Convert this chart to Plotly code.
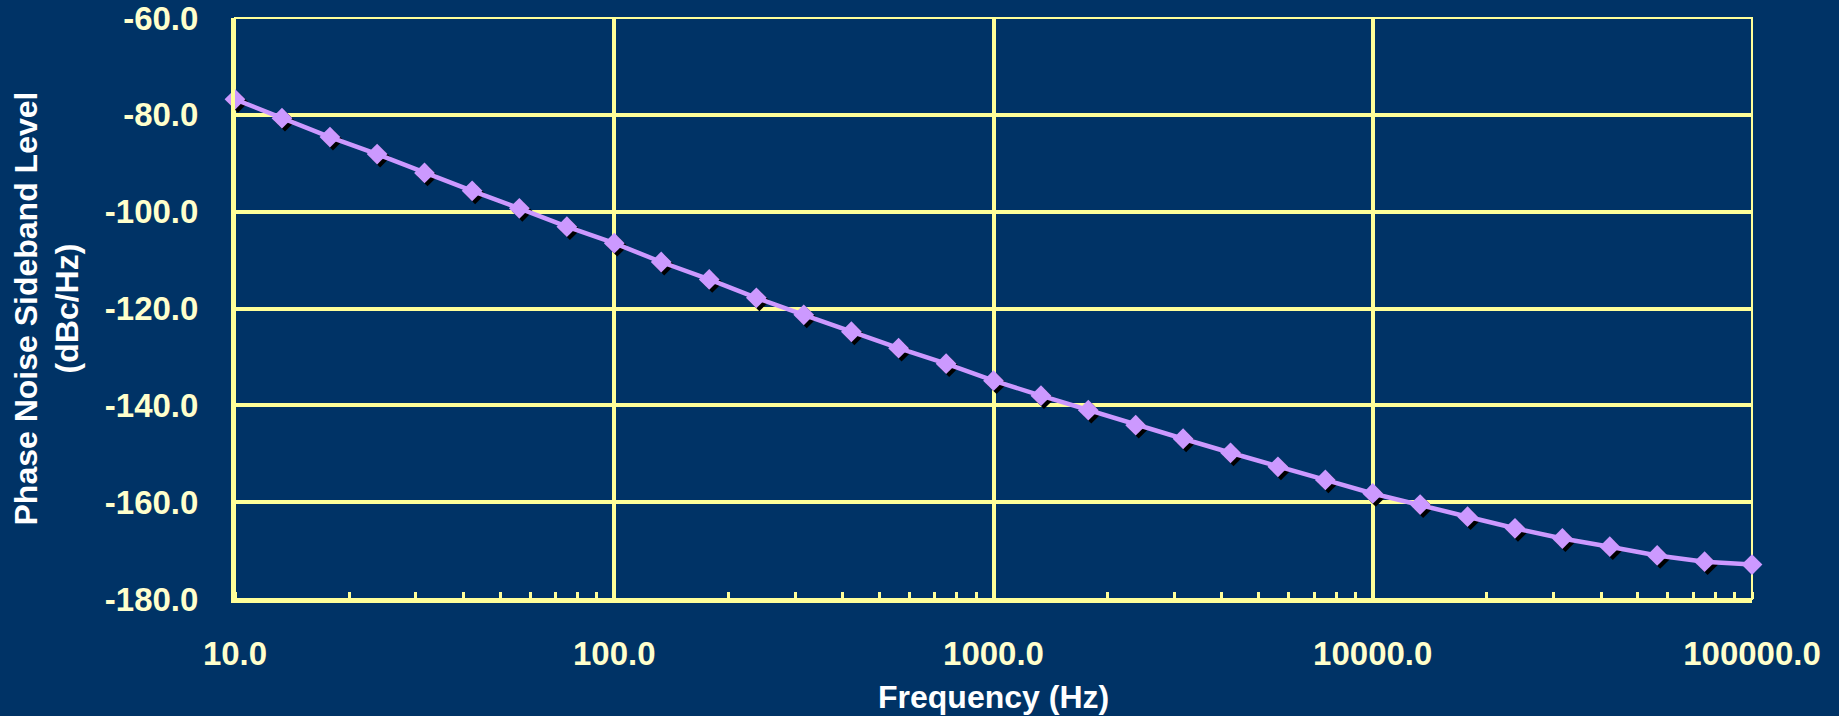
import plotly.graph_objects as go

# Offset frequency (Hz) and measured single-sideband phase noise (dBc/Hz)
freq_hz = [10.0, 13.3, 17.8, 23.7, 31.6, 42.2, 56.2, 75.0,
           100.0, 133.0, 178.0, 237.0, 316.0, 422.0, 562.0, 750.0,
           1000.0, 1334.0, 1778.0, 2371.0, 3162.0, 4217.0, 5623.0, 7499.0,
           10000.0, 13335.0, 17783.0, 23714.0, 31623.0, 42170.0, 56234.0, 74989.0,
           100000.0]
phase_noise = [-76.8, -80.7, -84.6, -88.1, -92.0, -95.7, -99.3, -103.1,
               -106.5, -110.4, -114.0, -117.8, -121.3, -124.8, -128.2, -131.4,
               -134.9, -138.0, -141.0, -144.1, -146.9, -149.8, -152.7, -155.4,
               -158.2, -160.5, -163.0, -165.4, -167.5, -169.2, -171.0, -172.3,
               -172.9]

x_tick_vals = [10, 100, 1000, 10000, 100000]
x_tick_text = ["10.0", "100.0", "1000.0", "10000.0", "100000.0"]
y_tick_vals = [-180, -160, -140, -120, -100, -80, -60]
y_tick_text = ["-180.0", "-160.0", "-140.0", "-120.0", "-100.0", "-80.0", "-60.0"]

BG = "#003366"
GRID = "#FFFF99"
TICK_TXT = "#FFFFCC"
LINE = "#CC99FF"

W, H = 1839, 716
ML, MR, MT, MB = 235, 87, 18, 117
plot_w = W - ML - MR
plot_h = H - MT - MB

x_range = [1, 5]          # log10 of 10 .. 100000
y_range = [-180, -60]

# drop-shadow offset for the markers, expressed in axis units
shadow_px = 3
dx = shadow_px * (x_range[1] - x_range[0]) / plot_w
dy = shadow_px * (y_range[1] - y_range[0]) / plot_h

MARKER_SIZE = 16

fig = go.Figure()

# invisible trace to hold the main grid axes
fig.add_trace(go.Scatter(x=freq_hz, y=phase_noise, mode="lines",
                         line=dict(color="rgba(0,0,0,0)"), hoverinfo="skip",
                         showlegend=False, xaxis="x", yaxis="y"))

# marker shadows
fig.add_trace(go.Scatter(x=freq_hz, y=phase_noise, mode="markers",
                         marker=dict(symbol="diamond", size=MARKER_SIZE, color="black",
                                     line=dict(width=0)),
                         cliponaxis=False, showlegend=False,
                         xaxis="x2", yaxis="y2"))

# phase noise curve
fig.add_trace(go.Scatter(x=freq_hz, y=phase_noise, mode="lines+markers",
                         line=dict(color=LINE, width=4.5),
                         marker=dict(symbol="diamond", size=MARKER_SIZE, color=LINE,
                                     line=dict(width=0)),
                         cliponaxis=False, showlegend=False,
                         xaxis="x3", yaxis="y3"))

tick_font = dict(family="Liberation Sans, Arial", size=33, color=TICK_TXT, weight="bold")
title_font = dict(family="Liberation Sans, Arial", size=32, color="white", weight="bold")

fig.update_layout(
    width=W, height=H,
    margin=dict(l=ML, r=MR, t=MT, b=MB, autoexpand=False),
    paper_bgcolor=BG, plot_bgcolor=BG,
    xaxis=dict(type="log", range=x_range, automargin=False,
               tickvals=x_tick_vals, ticktext=x_tick_text,
               tickfont=tick_font, ticks="", ticklabelstandoff=22,
               ticklabeloverflow="allow",
               showgrid=True, gridcolor=GRID, gridwidth=4,
               showline=True, linecolor=GRID, linewidth=4,
               zeroline=False,
               minor=dict(dtick="D1", ticks="inside", ticklen=7,
                          tickwidth=3, tickcolor=GRID, showgrid=False)),
    yaxis=dict(range=y_range, automargin=False,
               tickvals=y_tick_vals, ticktext=y_tick_text,
               tickfont=tick_font, ticks="", ticklabelstandoff=26,
               ticklabeloverflow="allow",
               showgrid=True, gridcolor=GRID, gridwidth=4,
               showline=True, linecolor=GRID, linewidth=4,
               zeroline=False),
    xaxis2=dict(type="log", range=[x_range[0] - dx, x_range[1] - dx],
                overlaying="x", visible=False),
    yaxis2=dict(range=[y_range[0] + dy, y_range[1] + dy],
                overlaying="y", visible=False),
    xaxis3=dict(type="log", range=x_range, overlaying="x", visible=False),
    yaxis3=dict(range=y_range, overlaying="y", visible=False),
    shapes=[dict(type="rect", xref="paper", yref="paper",
                 x0=0, x1=1, y0=0, y1=1,
                 line=dict(color=GRID, width=2), layer="below")],
    annotations=[
        dict(text="Phase Noise Sideband Level<br>(dBc/Hz)",
             xref="paper", yref="paper", x=(46 - ML) / plot_w, y=0.5,
             xanchor="center", yanchor="middle", textangle=-90,
             showarrow=False, font=title_font),
        dict(text="Frequency (Hz)",
             xref="paper", yref="paper", x=0.5, y=0, yshift=-98,
             xanchor="center", yanchor="middle", showarrow=False,
             font=title_font),
    ],
)

fig.write_html("out.html")
